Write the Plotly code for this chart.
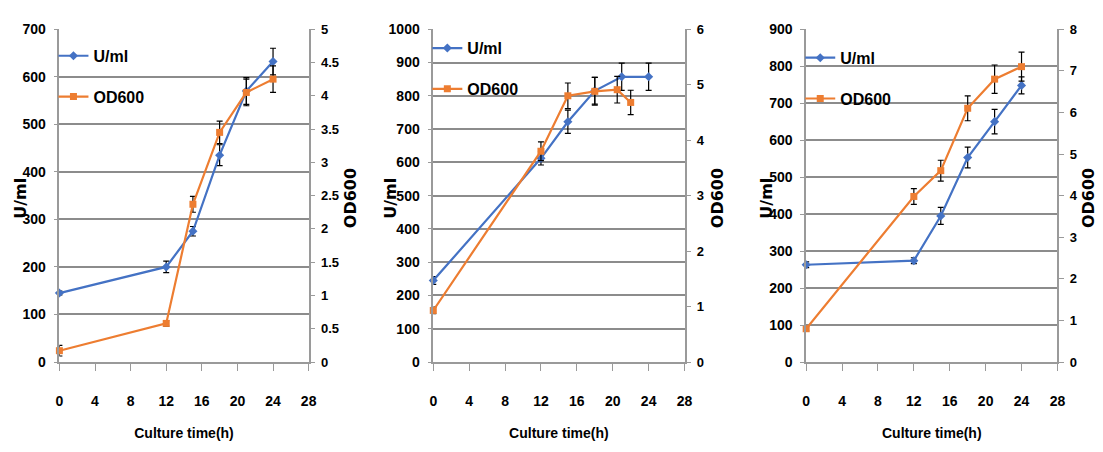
import plotly.graph_objects as go

# ---------------- data ----------------
hours = [0, 12, 15, 18, 21, 24]

p1_uml = [145, 200, 275, 435, 570, 632]
p1_uml_err = [4, 12, 10, 22, 28, 28]
p1_od = [0.17, 0.58, 2.37, 3.45, 4.05, 4.25]
p1_od_err = [0.08, 0.04, 0.12, 0.17, 0.2, 0.2]

p2_uml_hours = [0, 12, 15, 18, 21, 24]
p2_uml = [245, 612, 722, 815, 857, 857]
p2_uml_err = [12, 20, 35, 40, 41, 41]
p2_od_hours = [0, 12, 15, 18, 20.5, 22]
p2_od = [0.93, 3.8, 4.8, 4.88, 4.91, 4.68]
p2_od_err = [0.06, 0.17, 0.23, 0.25, 0.24, 0.22]

p3_uml = [263, 274, 395, 553, 650, 748]
p3_uml_err = [8, 8, 23, 28, 33, 23]
p3_od = [0.8, 3.98, 4.6, 6.1, 6.8, 7.1]
p3_od_err = [0.05, 0.19, 0.25, 0.3, 0.34, 0.35]

x_ticks = [0, 4, 8, 12, 16, 20, 24, 28]
left_ranges = [700, 1000, 900]
right_ranges = [5, 6, 8]
right_dticks = [0.5, 1, 1]

BLUE = "#4472C4"
ORANGE = "#ED7D31"
GRID = "#8C8C8C"
AXIS = "#9A9A9A"
SANS = "Liberation Sans, Arial, sans-serif"
TICKFONT = dict(family=SANS, size=14, color="black", weight="bold")
RTICKFONT = dict(family=SANS, size=13, color="black", weight="bold")
TITLEFONT = dict(family="DejaVu Sans, Verdana, sans-serif", size=16, color="black", weight="bold")

W, H = 1103, 452
panels_px = [(56, 308), (434, 688), (811, 1065)]
y_top, y_bot = 22, 367
# y-axis title centres (pixel x) : left, right
ytitle_px = [(16, 350), (390, 721), (770, 1096)]
legend_px = [(50, 32), (428, 24), (805, 34)]

fig = go.Figure()

series = [
    (hours, p1_uml, p1_uml_err, hours, p1_od, p1_od_err),
    (p2_uml_hours, p2_uml, p2_uml_err, p2_od_hours, p2_od, p2_od_err),
    (hours, p3_uml, p3_uml_err, hours, p3_od, p3_od_err),
]

layout = dict(
    width=W, height=H, margin=dict(l=0, r=0, t=0, b=0),
    paper_bgcolor="white", plot_bgcolor="white",
    font=dict(family=SANS, color="black"),
)
annotations = []

for i, (xu, yu, eu, xo, yo, eo) in enumerate(series):
    n = i + 1
    xname = "x" if n == 1 else f"x{n}"
    yl = 2 * n - 1
    yr = 2 * n
    ylname = "y" if yl == 1 else f"y{yl}"
    yrname = f"y{yr}"
    leg = "legend" if n == 1 else f"legend{n}"

    fig.add_trace(go.Scatter(
        x=xu, y=yu, mode="lines+markers", name="U/ml",
        line=dict(color=BLUE, width=2.2),
        marker=dict(symbol="diamond", size=7, color=BLUE),
        error_y=dict(type="data", array=eu, color="black", thickness=1.2, width=3),
        xaxis=xname, yaxis=ylname, legend=leg, legendgroup=f"u{n}",
        cliponaxis=False,
    ))
    fig.add_trace(go.Scatter(
        x=xo, y=yo, mode="lines+markers", name="OD600",
        line=dict(color=ORANGE, width=2.2),
        marker=dict(symbol="square", size=7, color=ORANGE),
        error_y=dict(type="data", array=eo, color="black", thickness=1.2, width=3),
        xaxis=xname, yaxis=yrname, legend=leg, legendgroup=f"o{n}",
        cliponaxis=False,
    ))

    x0, x1 = panels_px[i]
    dom_x = [x0 / W, x1 / W]
    dom_y = [1 - y_bot / H, 1 - y_top / H]
    xkey = "xaxis" if n == 1 else f"xaxis{n}"
    ylkey = "yaxis" if yl == 1 else f"yaxis{yl}"
    yrkey = f"yaxis{yr}"

    layout[xkey] = dict(
        domain=dom_x, anchor=ylname, range=[0, 28], tickvals=x_ticks,
        showgrid=False, zeroline=False, showline=True, linecolor=AXIS, linewidth=1.5,
        ticks="outside", ticklen=7, tickcolor=AXIS, tickwidth=1,
        tickfont=TICKFONT, ticklabelstandoff=18,
        title=dict(text="Culture time(h)",
                   font=dict(family=SANS, size=14, weight="bold", color="black"),
                   standoff=21),
    )
    layout[ylkey] = dict(
        domain=dom_y, anchor=xname, range=[0, left_ranges[i]], dtick=100,
        showgrid=True, gridcolor=GRID, gridwidth=1.5, zeroline=False,
        showline=True, linecolor=AXIS, linewidth=1.5,
        ticks="outside", ticklen=4, tickcolor=AXIS,
        tickfont=TICKFONT, ticklabelstandoff=5,
    )
    layout[yrkey] = dict(
        overlaying=ylname, anchor=xname, side="right",
        range=[0, right_ranges[i]], dtick=right_dticks[i],
        showgrid=False, zeroline=False,
        showline=True, linecolor=AXIS, linewidth=1.5,
        ticks="outside", ticklen=5, tickcolor=AXIS,
        tickfont=RTICKFONT, ticklabelstandoff=3,
    )
    lx, ly = legend_px[i]
    layout[leg] = dict(
        x=lx / W, y=1 - ly / H, xanchor="left", yanchor="top",
        bgcolor="rgba(0,0,0,0)",
        font=dict(family=SANS, size=16, color="black", weight="bold"),
        tracegroupgap=17, itemwidth=30,
    )
    lt, rt = ytitle_px[i]
    yc = 1 - 197 / H
    annotations.append(dict(text="U/ml", x=lt / W, y=yc, xref="paper", yref="paper",
                            textangle=-90, showarrow=False, font=TITLEFONT,
                            xanchor="center", yanchor="middle"))
    annotations.append(dict(text="OD600", x=rt / W, y=yc, xref="paper", yref="paper",
                            textangle=-90, showarrow=False, font=TITLEFONT,
                            xanchor="center", yanchor="middle"))

layout["annotations"] = annotations
fig.update_layout(**layout)
fig.write_html("out.html")
